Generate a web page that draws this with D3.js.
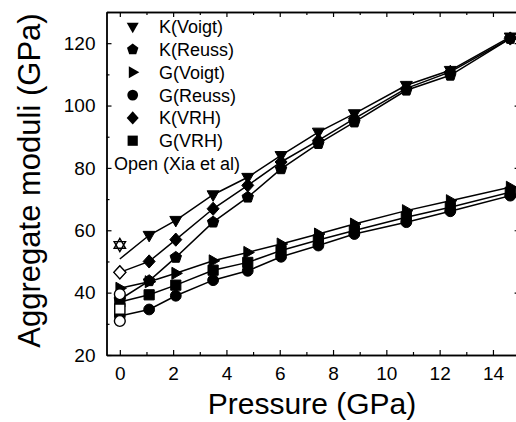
<!DOCTYPE html>
<html>
<head>
<meta charset="utf-8">
<script src="https://cdn.jsdelivr.net/npm/d3@7"></script>
<style>
  html, body { margin: 0; padding: 0; background: #fff; }
  svg { display: block; }
  text { font-family: "Liberation Sans", Arial, sans-serif; fill: #000; }
</style>
</head>
<body>
<svg id="chart" width="516" height="422"></svg>
<script>
// ---- data ----
const pressure = [0, 1.1, 2.1, 3.5, 4.8, 6.05, 7.45, 8.8, 10.75, 12.4, 14.65];
const kVoigt = [50.8, 58.4, 63.2, 71.4, 77.0, 84.0, 91.5, 97.4, 106.5, 111.3, 122.0];
const kReuss = [37.8, 43.8, 51.3, 62.6, 70.6, 79.7, 87.8, 94.7, 104.9, 109.7, 121.5];
const gVoigt = [41.4, 43.5, 46.2, 50.2, 52.9, 55.6, 58.8, 62.0, 66.3, 69.5, 73.8];
const gReuss = [32.5, 34.6, 39.0, 44.0, 47.0, 51.5, 55.1, 58.8, 62.6, 66.1, 71.1];
const kVRH   = [46.5, 50.0, 57.0, 66.9, 74.4, 81.9, 88.8, 95.8, 105.5, 110.8, 121.5];
const gVRH   = [37.0, 39.3, 42.4, 47.2, 49.7, 53.5, 56.9, 59.9, 64.2, 67.4, 72.2];
// Xia et al. (open symbols) at 0 GPa
const xiaPressure = [0, 0, 0, 0, 0];
const xiaValues   = [55.3, 46.5, 39.5, 34.7, 30.9];
const xiaShapes   = ["star", "diamond", "circle", "square", "circle"];
const seriesNames = ["K(Voigt)", "K(Reuss)", "G(Voigt)", "G(Reuss)", "K(VRH)", "G(VRH)"];
const legendNote  = "Open (Xia et al)";
const xTicks = [0, 2, 4, 6, 8, 10, 12, 14];
const yTicks = [20, 40, 60, 80, 100, 120];

// ---- layout ----
const svg = d3.select("#chart");
const L = 106.5, R = 519.6, T = 12, B = 355;
const x = d3.scaleLinear().domain([-0.5, 15]).range([L, R]);
const y = d3.scaleLinear().domain([20, 130]).range([B, T]);

// ---- symbol paths ----
function shapePath(type, s) {
  const p = d3.path();
  const poly = pts => { p.moveTo(pts[0][0], pts[0][1]); pts.slice(1).forEach(q => p.lineTo(q[0], q[1])); p.closePath(); };
  switch (type) {
    case "triDown": poly([[-s, -0.65 * s], [s, -0.65 * s], [0, 1.1 * s]]); break;
    case "triRight": poly([[-0.65 * s, -s], [-0.65 * s, s], [1.1 * s, 0]]); break;
    case "pentagon": {
      const pts = d3.range(5).map(i => { const a = -Math.PI / 2 + i * 2 * Math.PI / 5; return [s * Math.cos(a), s * Math.sin(a)]; });
      poly(pts); break;
    }
    case "circle": p.arc(0, 0, 0.9 * s, 0, 2 * Math.PI); p.closePath(); break;
    case "diamond": poly([[0, -1.1 * s], [s, 0], [0, 1.1 * s], [-s, 0]]); break;
    case "square": poly([[-0.85 * s, -0.85 * s], [0.85 * s, -0.85 * s], [0.85 * s, 0.85 * s], [-0.85 * s, 0.85 * s]]); break;
    case "star": {
      poly([[0, -1.1 * s], [0.95 * s, 0.55 * s], [-0.95 * s, 0.55 * s]]);
      poly([[0, 1.1 * s], [0.95 * s, -0.55 * s], [-0.95 * s, -0.55 * s]]);
      break;
    }
  }
  return p.toString();
}

const series = [
  { name: seriesNames[0], values: kVoigt, shape: "triDown", from: 1 },
  { name: seriesNames[1], values: kReuss, shape: "pentagon", from: 0 },
  { name: seriesNames[2], values: gVoigt, shape: "triRight", from: 0 },
  { name: seriesNames[3], values: gReuss, shape: "circle", from: 0 },
  { name: seriesNames[4], values: kVRH, shape: "diamond", from: 0 },
  { name: seriesNames[5], values: gVRH, shape: "square", from: 0 }
];

const S = 6;

// ---- axes ----
function axisStyle(g) {
  g.selectAll(".domain").attr("stroke", "#000").attr("stroke-width", 1.4);
  g.selectAll(".tick line").attr("stroke", "#000").attr("stroke-width", 1.2);
  g.selectAll("text").attr("font-size", 19).attr("fill", "#000")
    .attr("font-family", "'Liberation Sans', Arial, sans-serif");
}
const xMinor = d3.range(-0, 16, 1).filter(v => v % 2 !== 0);
const yMinor = d3.range(30, 131, 20);

// bottom
svg.append("g").attr("transform", `translate(0,${B})`)
  .call(d3.axisBottom(x).tickValues(xTicks).tickFormat(d3.format("d")).tickSizeInner(-5).tickSizeOuter(0).tickPadding(12))
  .call(axisStyle);
svg.append("g").attr("transform", `translate(0,${B})`)
  .call(d3.axisBottom(x).tickValues(xMinor).tickFormat("").tickSizeInner(-3).tickSizeOuter(0))
  .call(axisStyle);
// top
svg.append("g").attr("transform", `translate(0,${T})`)
  .call(d3.axisTop(x).tickValues(xTicks).tickFormat("").tickSizeInner(-5).tickSizeOuter(0))
  .call(axisStyle);
svg.append("g").attr("transform", `translate(0,${T})`)
  .call(d3.axisTop(x).tickValues(xMinor).tickFormat("").tickSizeInner(-3).tickSizeOuter(0))
  .call(axisStyle);
// left
svg.append("g").attr("transform", `translate(${L},0)`)
  .call(d3.axisLeft(y).tickValues(yTicks).tickFormat(d3.format("d")).tickSizeInner(-5).tickSizeOuter(0).tickPadding(11))
  .call(axisStyle);
svg.append("g").attr("transform", `translate(${L},0)`)
  .call(d3.axisLeft(y).tickValues(yMinor).tickFormat("").tickSizeInner(-3).tickSizeOuter(0))
  .call(axisStyle);
// right
svg.append("g").attr("transform", `translate(${R},0)`)
  .call(d3.axisRight(y).tickValues(yTicks).tickFormat("").tickSizeInner(-5).tickSizeOuter(0))
  .call(axisStyle);

// axis titles
svg.append("text").attr("x", (L + R) / 2 - 1).attr("y", 414)
  .attr("text-anchor", "middle").attr("font-size", 30).text("Pressure (GPa)");
svg.append("text").attr("transform", `translate(40,${(T + B) / 2 - 3}) rotate(-90)`)
  .attr("text-anchor", "middle").attr("font-size", 31).text("Aggregate moduli (GPa)");

// ---- lines ----
const line = d3.line().x((d, i) => x(pressure[i])).y(d => y(d));
const plot = svg.append("g");
series.forEach(s => {
  plot.append("path").attr("d", line(s.values))
    .attr("fill", "none").attr("stroke", "#000").attr("stroke-width", 1.5);
});

// ---- solid markers ----
series.forEach(s => {
  plot.selectAll(null).data(s.values.map((v, i) => ({ p: pressure[i], v, i })).filter(d => d.i >= s.from))
    .enter().append("path")
    .attr("transform", d => `translate(${x(d.p)},${y(d.v)})`)
    .attr("d", shapePath(s.shape, S))
    .attr("fill", "#000").attr("stroke", "#000").attr("stroke-width", 1);
});

// ---- open markers (Xia et al) ----
plot.selectAll(null).data(xiaValues.map((v, i) => ({ p: xiaPressure[i], v, shape: xiaShapes[i] })))
  .enter().append("path")
  .attr("transform", d => `translate(${x(d.p)},${y(d.v)})`)
  .attr("d", d => shapePath(d.shape, S))
  .attr("fill", "#fff").attr("stroke", "#000").attr("stroke-width", 1.4);

// ---- legend ----
const leg = svg.append("g");
const rowY = i => 26.7 + i * 22.8;
series.forEach((s, i) => {
  leg.append("path").attr("transform", `translate(132.7,${rowY(i)})`)
    .attr("d", shapePath(s.shape, S)).attr("fill", "#000");
  leg.append("text").attr("x", 159).attr("y", rowY(i) + 6.5)
    .attr("font-size", 18).text(s.name);
});
leg.append("text").attr("x", 114).attr("y", rowY(6) + 6.5)
  .attr("font-size", 18).text(legendNote);
</script>
</body>
</html>
